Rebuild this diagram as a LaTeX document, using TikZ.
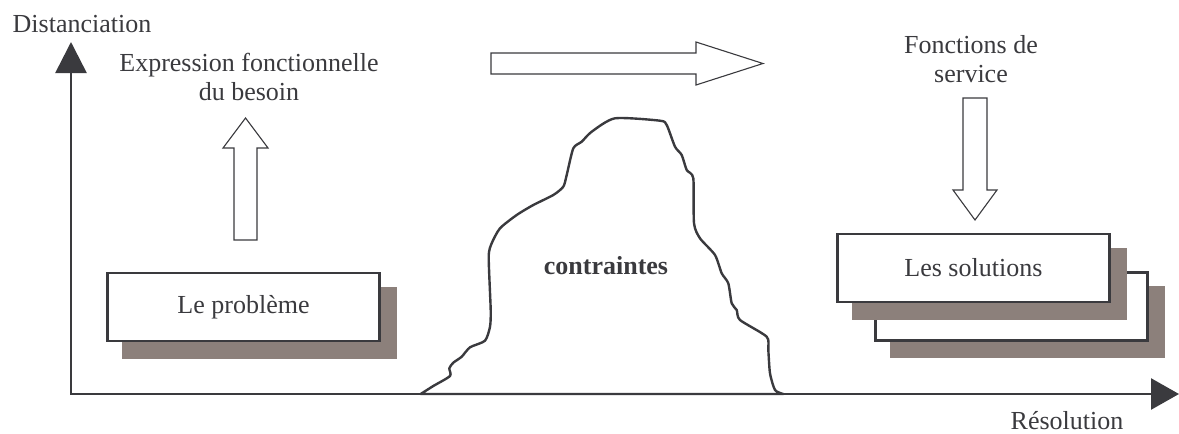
\documentclass[tikz,border=0pt]{standalone}
\usepackage{fontspec}
\setmainfont{Liberation Serif}
\usepackage{xcolor}
\usepackage{tikz}
\usetikzlibrary{arrows.meta}
\definecolor{trait}{RGB}{58,58,62}
\definecolor{ombre}{RGB}{140,128,123}

\begin{document}
\begin{tikzpicture}[x=1pt,y=-1pt,
    txt/.style={font=\fontsize{26}{29}\selectfont,text=trait,inner sep=0pt},
    boite/.style={txt,draw=trait,line width=2.6pt,fill=white,minimum width=272pt,minimum height=68pt},
    creuse/.style={draw=trait,line width=1.1pt,fill=white},
    axe/.style={{Triangle[length=31pt,width=31pt]}-{Triangle[length=28pt,width=31pt]},trait,line width=2.6pt},
    mont/.style={trait,line width=2.4pt,line join=round}]
  \useasboundingbox (0,0) rectangle (1179,434);
  \coordinate (O) at (71,394);
  \coordinate (Y) at (71,42);
  \coordinate (X) at (1179,394);
  \draw[axe] (Y) -- (O) -- (X);
  \node[txt,anchor=base] (dist) at (82,32) {Distanciation};
  \node[txt,anchor=base] (reso) at (1067,429.5) {Résolution};
  \node[txt,anchor=base,align=center] (expr) at (249,100) {Expression fonctionnelle\\du besoin};
  \node[txt,anchor=base,align=center] (fonc) at (971,82) {Fonctions de\\service};
  \draw[creuse] (234,240) -- (234,148) -- (223,148) -- (245.5,118) -- (268,148) -- (257,148) -- (257,240) -- cycle;
  \draw[creuse] (491,53) -- (696,53) -- (696,42) -- (763,63.5) -- (696,85) -- (696,74) -- (491,74) -- cycle;
  \draw[creuse] (963,98) -- (987,98) -- (987,190) -- (997,190) -- (975,220) -- (953,190) -- (963,190) -- cycle;
  \draw[mont] plot[smooth,tension=0.4] coordinates {(420.7,394) (433.3,386) (450,376) (449.3,368.3) (453.3,362.7) (461.7,356.7) (470,347.3) (485,340.7) (490,326.7) (490.7,310) (488.7,256.7) (491.7,243.3) (500,228.3) (516.7,215) (533.3,205) (553.3,195) (563.3,186.7) (566.7,175) (573.3,148.3) (581.7,141.7) (591.7,131.7) (615,118.3) (660,120.7) (666.7,125) (675,146.7) (681.7,155) (686.7,170) (693.3,178.3) (694,223.3) (700,238.3) (715,255) (721.7,273.3) (728.3,283.3) (731.7,303.3) (736.7,310) (740,320) (766.7,336.7) (768.3,350) (770,373.3) (775,390) (783.3,394)} -- cycle;
  \node[txt,font=\fontsize{26}{29}\selectfont\bfseries,anchor=base] (contr) at (606,274) {contraintes};
  \foreach \nom/\x/\y/\lab in {pb/243.5/306.8/{Le problème},sol2/1011.7/306.2/{},sol1/973.4/268/{Les solutions}}{
    \fill[ombre] (\x-121.9,\y-19.8) rectangle +(275,71.5);
    \node[boite] (\nom) at (\x,\y) {\lab};
  }
\end{tikzpicture}
\end{document}
